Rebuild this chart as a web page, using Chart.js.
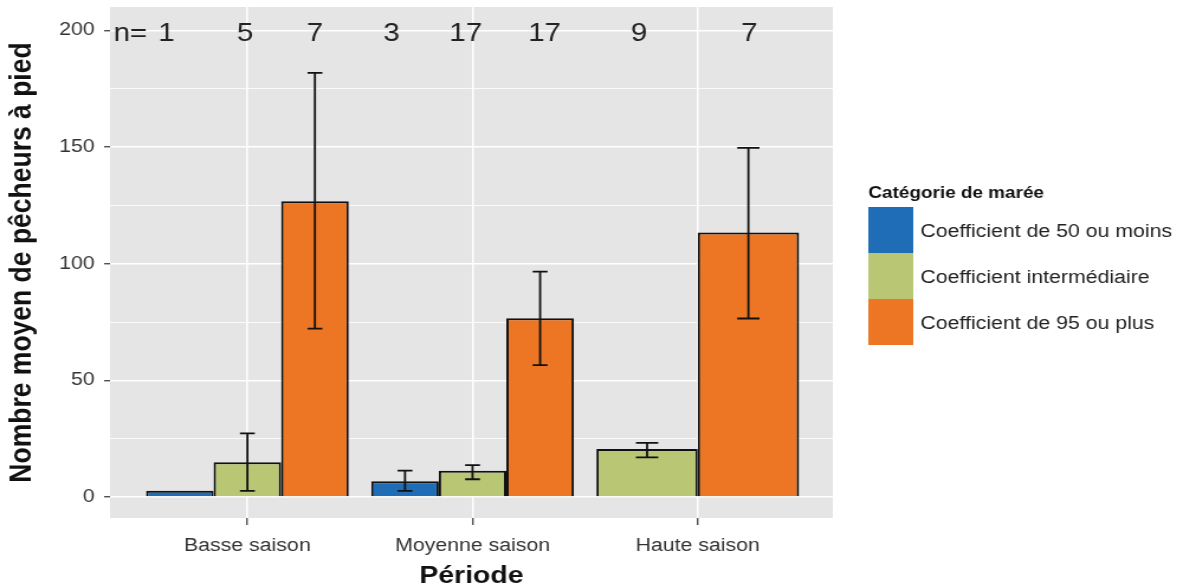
<!DOCTYPE html>
<html lang="fr">
<head>
<meta charset="utf-8" />
<title>Nombre moyen de pêcheurs à pied par période</title>
<script src="https://cdn.jsdelivr.net/npm/chart.js@4.4.0/dist/chart.umd.min.js"></script>
<style>
  html, body { margin: 0; padding: 0; background: #fff; }
  #chart { display: block; }
</style>
</head>
<body>
<!-- the original picture is stretched sideways, so the canvas is too -->
<canvas id="chart" width="1000" height="586" style="width:1183px;height:586px"></canvas>
<script>
// --- data ---
const categories = ['Basse saison', 'Moyenne saison', 'Haute saison'];
const seriesNames = ['Coefficient de 50 ou moins', 'Coefficient intermédiaire', 'Coefficient de 95 ou plus'];

const meanLow = [2.7, 6.8, null];
const meanMid = [14.9, 11.3, 20.6];
const meanHigh = [126.8, 76.6, 113.4];

const errLowMin = [null, 2.6, null];
const errLowMax = [null, 11.3, null];
const errMidMin = [2.6, 7.6, 17.0];
const errMidMax = [27.3, 13.7, 23.2];
const errHighMin = [72.2, 56.5, 76.5];
const errHighMax = [181.8, 96.6, 149.6];

// sample sizes written at the top of the panel (x in axis units)
const countX = [0.48, 0.64, 0.99, 1.30, 1.64, 1.97, 2.32, 2.74, 3.23];
const countText = ['n=', '1', '5', '7', '3', '17', '17', '9', '7'];
const countY = 200;

const yMajor = [0, 50, 100, 150, 200];
const yMinor = [25, 75, 125, 175];

const colors = ['#1f6db6', '#b9c674', '#ec7624'];
const FONT = "'Liberation Sans', Arial, sans-serif";

function points(vals, lo, hi) {
  const out = [];
  vals.forEach((v, i) => {
    if (v === null) return;
    out.push({ x: i + 1, y: v, lo: lo[i], hi: hi[i] });
  });
  return out;
}

const panelBg = {
  id: 'panelBg',
  beforeDraw(chart) {
    const { ctx, chartArea: a } = chart;
    ctx.save();
    ctx.fillStyle = '#e5e5e5';
    ctx.fillRect(a.left, a.top, a.right - a.left, a.bottom - a.top);
    ctx.restore();
  }
};

const errorBars = {
  id: 'errorBars',
  afterDatasetsDraw(chart) {
    const { ctx } = chart;
    const y = chart.scales.y;
    ctx.save();
    ctx.strokeStyle = '#111';
    ctx.lineWidth = 1.8;
    chart.data.datasets.forEach((ds, i) => {
      const meta = chart.getDatasetMeta(i);
      meta.data.forEach((bar, k) => {
        const p = ds.data[k];
        if (p.lo == null || p.hi == null) return;
        const cap = bar.width * 0.22 / 2;
        const y1 = y.getPixelForValue(p.lo);
        const y2 = y.getPixelForValue(p.hi);
        ctx.beginPath();
        ctx.moveTo(bar.x, y1); ctx.lineTo(bar.x, y2);
        ctx.moveTo(bar.x - cap, y1); ctx.lineTo(bar.x + cap, y1);
        ctx.moveTo(bar.x - cap, y2); ctx.lineTo(bar.x + cap, y2);
        ctx.stroke();
      });
    });
    ctx.restore();
  }
};

const countLabels = {
  id: 'countLabels',
  afterDatasetsDraw(chart) {
    const { ctx, scales } = chart;
    ctx.save();
    ctx.fillStyle = '#222';
    ctx.font = '25px ' + FONT;
    ctx.textAlign = 'center';
    ctx.textBaseline = 'middle';
    const py = scales.y.getPixelForValue(countY) + 4;
    countText.forEach((t, i) => {
      ctx.fillText(t, scales.x.getPixelForValue(countX[i]), py);
    });
    ctx.restore();
  }
};

const sideLegend = {
  id: 'sideLegend',
  afterDraw(chart) {
    const { ctx } = chart;
    const left = 734, top = 207, boxW = 38, boxH = 46;
    ctx.save();
    ctx.fillStyle = '#111';
    ctx.font = 'bold 16px ' + FONT;
    ctx.textAlign = 'left';
    ctx.textBaseline = 'alphabetic';
    ctx.fillText('Catégorie de marée', left, 198);
    ctx.font = '18px ' + FONT;
    ctx.textBaseline = 'middle';
    chart.data.datasets.forEach((ds, i) => {
      const by = top + i * boxH;
      ctx.fillStyle = ds.backgroundColor;
      ctx.fillRect(left, by, boxW, boxH);
      ctx.fillStyle = '#222';
      ctx.fillText(ds.label, left + boxW + 6, by + boxH / 2 + 2);
    });
    ctx.restore();
  }
};

new Chart(document.getElementById('chart'), {
  type: 'bar',
  data: {
    datasets: [
      { label: seriesNames[0], data: points(meanLow, errLowMin, errLowMax), backgroundColor: colors[0] },
      { label: seriesNames[1], data: points(meanMid, errMidMin, errMidMax), backgroundColor: colors[1] },
      { label: seriesNames[2], data: points(meanHigh, errHighMin, errHighMax), backgroundColor: colors[2] }
    ]
  },
  options: {
    responsive: false,
    devicePixelRatio: 1,
    animation: false,
    skipNull: true,
    categoryPercentage: 0.9,
    barPercentage: 1.0,
    borderColor: '#111',
    borderWidth: 2,
    layout: { padding: { top: 7, right: 296, left: 0, bottom: 0 } },
    plugins: {
      legend: { display: false },
      tooltip: { enabled: false }
    },
    scales: {
      x: {
        type: 'linear',
        min: 0.39,
        max: 3.6,
        offset: false,
        afterBuildTicks: s => { s.ticks = categories.map((c, i) => ({ value: i + 1 })); },
        afterFit: s => { s.height = 68; s.paddingLeft = 0; s.paddingRight = 0; },
        border: { display: false },
        grid: {
          offset: false,
          color: '#fff',
          lineWidth: 1.5,
          tickLength: 7,
          tickColor: '#333',
          tickWidth: 1.2
        },
        ticks: {
          autoSkip: false,
          maxRotation: 0,
          padding: 10,
          color: '#333',
          font: { family: FONT, size: 18 },
          callback: v => categories[v - 1]
        },
        title: {
          display: true,
          text: 'Période',
          color: '#111',
          font: { family: FONT, size: 24, weight: 'bold', lineHeight: 1 },
          padding: { top: 0, bottom: -2 }
        }
      },
      y: {
        min: -9,
        max: 210,
        afterBuildTicks: s => {
          s.ticks = yMajor.concat(yMinor).sort((a, b) => a - b).map(v => ({ value: v }));
        },
        afterFit: s => { s.width = 93; s.paddingTop = 0; s.paddingBottom = 0; },
        border: { display: false },
        grid: {
          color: '#fff',
          lineWidth: c => yMajor.includes(c.tick.value) ? 1.5 : 0.8,
          tickLength: 5,
          tickColor: c => yMajor.includes(c.tick.value) ? '#333' : 'rgba(0,0,0,0)',
          tickWidth: 1.2
        },
        ticks: {
          autoSkip: false,
          padding: 8,
          color: '#333',
          font: { family: FONT, size: 18 },
          callback: v => yMajor.includes(v) ? String(v) : ''
        },
        title: {
          display: true,
          text: 'Nombre moyen de pêcheurs à pied',
          color: '#111',
          font: { family: FONT, size: 26.5, weight: 'bold' },
          padding: { top: 3, bottom: 0 }
        }
      }
    }
  },
  plugins: [panelBg, errorBars, countLabels, sideLegend]
});
</script>
</body>
</html>
